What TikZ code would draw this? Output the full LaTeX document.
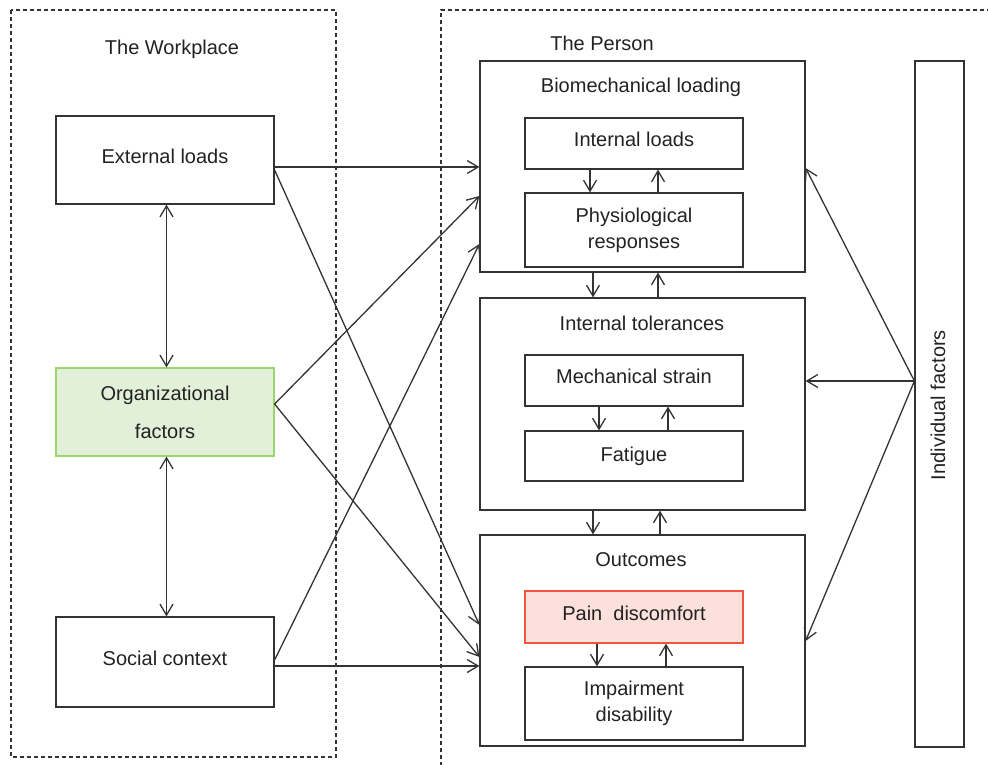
\documentclass[tikz,border=0pt]{standalone}
\usepackage{fontspec}
\setmainfont{Liberation Sans}
\usetikzlibrary{arrows.meta}
\definecolor{ln}{HTML}{333333}
\definecolor{tx}{HTML}{222222}
\definecolor{gfill}{HTML}{E2EFD9}
\definecolor{gline}{HTML}{9BD56B}
\definecolor{rfill}{HTML}{FCE0DC}
\definecolor{rline}{HTML}{F0553F}
\tikzset{
  box/.style={draw=ln, line width=1.2pt, inner sep=0pt, align=center, text=tx,
    font=\fontsize{20}{26}\selectfont},
  tb/.style={text height=14.6pt, text depth=8pt},
  lbl/.style={inner sep=0pt, text=tx, font=\fontsize{20}{26}\selectfont},
  arr/.style={draw=ln, line width=1.3pt, -{Straight Barb[length=11pt,width=13pt]}},
  darr/.style={draw=ln, line width=1.3pt, {Straight Barb[length=11pt,width=13pt]}-{Straight Barb[length=11pt,width=13pt]}},
  dsh/.style={draw=ln, line width=1.1pt, dash pattern=on 4pt off 3pt}
}
\begin{document}
\begin{tikzpicture}[x=1pt,y=-1pt]
\useasboundingbox (0,0) rectangle (988,764);
\clip (0,0) rectangle (988,764);
% dashed regions
\draw[dsh] (11,10) rectangle (336,757);
\draw[dsh] (441,780) -- (441,10) -- (1000,10);
\node[lbl, anchor=base] (tw) at (172,54) {The Workplace};
\node[lbl, anchor=base] (tp) at (602,50) {The Person};
% workplace boxes
\node[box, tb, minimum width=218pt, minimum height=88pt] (ext) at (165,160) {External loads};
\node[box, fill=gfill, draw=gline, minimum width=218pt, minimum height=88pt,
  font=\fontsize{20}{38}\selectfont] (org) at (165,412) {Organizational\\factors};
\node[box, tb, minimum width=218pt, minimum height=90pt] (soc) at (165,662) {Social context};
% person containers
\node[box, minimum width=325pt, minimum height=211pt] (bio) at (642.5,166.5) {};
\node[lbl, anchor=base] (biot) at (641,92) {Biomechanical loading};
\node[box, tb, minimum width=218pt, minimum height=51pt] (il) at (634,143.5) {Internal loads};
\node[box, minimum width=218pt, minimum height=74pt] (pr) at (634,230) {Physiological\\responses};
\node[box, minimum width=325pt, minimum height=212pt] (it) at (642.5,404) {};
\node[lbl, anchor=base] (itt) at (642,330) {Internal tolerances};
\node[box, tb, minimum width=218pt, minimum height=51pt] (ms) at (634,380.5) {Mechanical strain};
\node[box, minimum width=218pt, minimum height=50pt] (fat) at (634,456) {Fatigue};
\node[box, minimum width=325pt, minimum height=211pt] (out) at (642.5,640.5) {};
\node[lbl, anchor=base] (outt) at (641,566) {Outcomes};
\node[box, tb, fill=rfill, draw=rline, minimum width=218pt, minimum height=52pt] (pain) at (634,617) {Pain\ \ discomfort};
\node[box, minimum width=218pt, minimum height=73pt] (imp) at (634,703.5) {Impairment\\disability};
% individual factors
\node[box, minimum width=49pt, minimum height=686pt] (ind) at (939.5,404) {};
\node[lbl, rotate=90, anchor=base] (indt) at (945,405) {Individual factors};
% workplace vertical links
\draw[darr] ([xshift=1.5pt]ext.south) -- ([xshift=1.5pt]org.north);
\draw[darr] ([xshift=1.5pt]org.south) -- ([xshift=1.5pt]soc.north);
% workplace to person
\draw[arr] ([yshift=-7pt]ext.east) -- ([yshift=-0.5pt]bio.west);
\draw[arr] ([yshift=-10pt]ext.east) -- ([yshift=15.5pt]out.west);
\draw[arr] ([yshift=8pt]org.east) -- ([yshift=-29.5pt]bio.west);
\draw[arr] ([yshift=8pt]org.east) -- ([yshift=-16.5pt]out.west);
\draw[arr] ([yshift=2pt]soc.east) -- ([yshift=-77.5pt]bio.west);
\draw[arr] ([yshift=-4pt]soc.east) -- ([yshift=-25.5pt]out.west);
% individual factors
\draw[arr] ([yshift=23pt]ind.west) -- ([yshift=-1.5pt]bio.east);
\draw[arr] ([yshift=23pt]ind.west) -- ([yshift=23pt]it.east);
\draw[arr] ([yshift=23pt]ind.west) -- ([yshift=-0.5pt]out.east);
% inner links
\draw[arr] ([xshift=-44pt]il.south) -- ([xshift=-44pt]pr.north);
\draw[arr] ([xshift=24pt]pr.north) -- ([xshift=24pt]il.south);
\draw[arr] ([xshift=-49.5pt]bio.south) -- ([xshift=-49.5pt]it.north);
\draw[arr] ([xshift=15.5pt]it.north) -- ([xshift=15.5pt]bio.south);
\draw[arr] ([xshift=-35pt]ms.south) -- ([xshift=-35pt]fat.north);
\draw[arr] ([xshift=34pt]fat.north) -- ([xshift=34pt]ms.south);
\draw[arr] ([xshift=-49.5pt]it.south) -- ([xshift=-49.5pt]out.north);
\draw[arr] ([xshift=17.5pt]out.north) -- ([xshift=17.5pt]it.south);
\draw[arr] ([xshift=-37pt]pain.south) -- ([xshift=-37pt]imp.north);
\draw[arr] ([xshift=32pt]imp.north) -- ([xshift=32pt]pain.south);
\end{tikzpicture}
\end{document}
